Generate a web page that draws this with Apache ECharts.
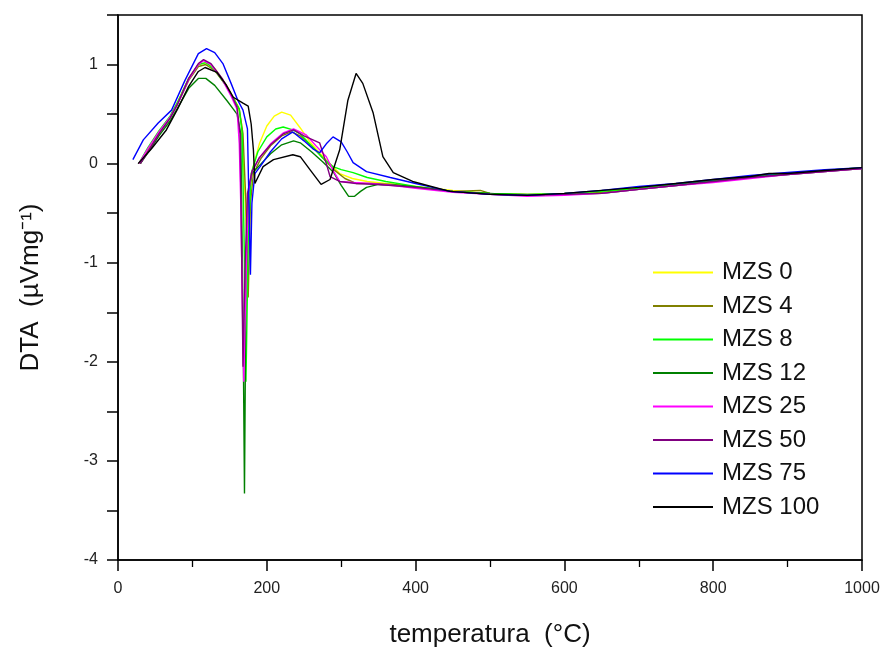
<!DOCTYPE html>
<html>
<head>
<meta charset="utf-8">
<script src="https://cdn.jsdelivr.net/npm/echarts@6/dist/echarts.min.js"></script>
<style>
html,body{margin:0;padding:0;background:#fff;}
#chart{width:887px;height:653px;}
</style>
</head>
<body>
<div id="chart"></div>
<script>
// Series names and colours
var seriesNames = ['MZS 0','MZS 4','MZS 8','MZS 12','MZS 25','MZS 50','MZS 75','MZS 100'];
var seriesColors = ['#ffff00','#808000','#00ff00','#008000','#ff00ff','#800080','#0000ff','#000000'];

// [temperature (°C), DTA (µV/mg)]
var mzs0 = [[28,0.0],[40,0.14],[55,0.31],[70,0.47],[80,0.62],[95,0.86],[108,1.0],[118,1.02],[130,0.96],[145,0.8],[155,0.67],[162,0.57],[166,0.4],[170,-0.2],[174,-0.9],[177,-0.3],[181,-0.05],[190,0.2],[200,0.38],[210,0.48],[220,0.52],[232,0.49],[245,0.36],[258,0.22],[272,0.1],[285,0.0],[298,-0.1],[315,-0.15],[335,-0.18],[360,-0.2],[400,-0.23],[450,-0.27],[500,-0.3],[550,-0.31],[600,-0.3],[650,-0.28],[700,-0.24],[750,-0.21],[800,-0.17],[850,-0.13],[900,-0.1],[950,-0.07],[1000,-0.04]];
var mzs4 = [[30,0.0],[42,0.15],[55,0.3],[70,0.46],[80,0.6],[95,0.84],[108,0.98],[118,1.0],[130,0.94],[145,0.79],[155,0.66],[163,0.55],[168,0.3],[172,-0.4],[175,-1.35],[178,-0.4],[182,-0.1],[192,0.05],[205,0.18],[220,0.28],[233,0.32],[245,0.28],[260,0.18],[275,0.06],[290,-0.06],[305,-0.15],[320,-0.2],[340,-0.2],[370,-0.21],[400,-0.24],[450,-0.28],[487,-0.27],[500,-0.3],[550,-0.31],[600,-0.31],[650,-0.29],[700,-0.25],[750,-0.21],[800,-0.18],[850,-0.14],[900,-0.1],[950,-0.07],[1000,-0.05]];
var mzs8 = [[28,0.0],[40,0.16],[55,0.33],[70,0.48],[80,0.62],[95,0.86],[108,1.0],[118,1.02],[130,0.95],[145,0.79],[155,0.66],[163,0.55],[167,0.3],[170,-1.0],[172,-2.2],[175,-0.8],[179,-0.1],[188,0.12],[200,0.27],[212,0.35],[222,0.37],[235,0.34],[245,0.3],[260,0.18],[275,0.06],[289,-0.03],[300,-0.06],[316,-0.09],[335,-0.14],[360,-0.18],[400,-0.23],[450,-0.28],[500,-0.3],[550,-0.31],[600,-0.3],[650,-0.28],[700,-0.25],[750,-0.21],[800,-0.17],[850,-0.13],[900,-0.1],[950,-0.07],[1000,-0.04]];
var mzs12 = [[30,0.0],[42,0.13],[55,0.28],[70,0.43],[80,0.56],[95,0.76],[108,0.86],[118,0.86],[130,0.79],[146,0.64],[155,0.55],[160,0.5],[165,0.3],[168,-1.5],[170,-3.33],[172,-1.2],[175,-0.3],[180,-0.1],[190,-0.02],[205,0.1],[220,0.19],[236,0.23],[245,0.21],[260,0.12],[275,0.02],[290,-0.09],[300,-0.22],[310,-0.33],[318,-0.33],[326,-0.28],[334,-0.24],[350,-0.21],[380,-0.22],[420,-0.25],[450,-0.28],[500,-0.3],[550,-0.32],[600,-0.31],[650,-0.3],[700,-0.26],[750,-0.22],[800,-0.18],[850,-0.14],[900,-0.11],[950,-0.08],[1000,-0.05]];
var mzs25 = [[28,0.0],[40,0.15],[55,0.32],[70,0.47],[80,0.6],[95,0.85],[108,1.0],[115,1.04],[125,1.0],[140,0.85],[152,0.68],[160,0.55],[163,0.2],[165,-0.4],[169,-2.2],[172,-1.2],[175,-0.3],[180,-0.08],[190,0.06],[205,0.2],[222,0.31],[236,0.35],[253,0.29],[266,0.18],[280,0.07],[290,-0.08],[298,-0.18],[316,-0.19],[340,-0.2],[370,-0.22],[400,-0.25],[450,-0.29],[500,-0.31],[550,-0.33],[600,-0.32],[650,-0.3],[700,-0.26],[750,-0.22],[800,-0.19],[850,-0.15],[900,-0.11],[950,-0.08],[1000,-0.05]];
var mzs50 = [[30,0.0],[42,0.14],[55,0.3],[70,0.46],[80,0.6],[95,0.86],[108,1.01],[115,1.05],[125,1.01],[140,0.86],[152,0.7],[160,0.57],[164,0.3],[166,-0.8],[168,-2.05],[171,-1.0],[174,-0.3],[180,-0.08],[190,0.06],[205,0.19],[222,0.3],[236,0.34],[250,0.28],[262,0.24],[271,0.21],[280,0.0],[285,-0.13],[298,-0.18],[320,-0.2],[350,-0.21],[400,-0.24],[450,-0.28],[500,-0.31],[550,-0.32],[600,-0.31],[650,-0.3],[700,-0.26],[750,-0.22],[800,-0.18],[850,-0.14],[900,-0.11],[950,-0.08],[1000,-0.05]];
var mzs75 = [[20,0.04],[34,0.24],[54,0.41],[72,0.54],[90,0.84],[108,1.11],[119,1.16],[130,1.12],[141,1.01],[152,0.81],[161,0.64],[168,0.54],[174,0.35],[176,-0.4],[178,-1.12],[180,-0.4],[184,-0.1],[191,-0.03],[205,0.12],[220,0.25],[235,0.32],[250,0.23],[262,0.15],[271,0.11],[280,0.2],[289,0.27],[300,0.22],[308,0.12],[316,0.01],[334,-0.08],[366,-0.14],[400,-0.2],[423,-0.24],[446,-0.28],[500,-0.31],[550,-0.32],[600,-0.3],[650,-0.27],[700,-0.23],[750,-0.2],[800,-0.16],[850,-0.12],[900,-0.09],[950,-0.06],[1000,-0.04]];
var mzs100 = [[27,0.0],[45,0.15],[65,0.34],[80,0.55],[95,0.78],[108,0.93],[117,0.97],[133,0.92],[145,0.8],[155,0.67],[168,0.61],[175,0.58],[179,0.4],[182,0.14],[184,-0.2],[186,-0.18],[195,-0.03],[209,0.04],[235,0.09],[245,0.07],[259,-0.07],[273,-0.21],[285,-0.16],[298,0.14],[309,0.64],[320,0.91],[329,0.81],[343,0.51],[356,0.07],[370,-0.09],[396,-0.18],[446,-0.28],[500,-0.31],[550,-0.32],[600,-0.3],[650,-0.27],[700,-0.24],[750,-0.2],[800,-0.16],[850,-0.13],[875,-0.1],[900,-0.1],[950,-0.07],[1000,-0.04]];

var seriesData = [mzs0, mzs4, mzs8, mzs12, mzs25, mzs50, mzs75, mzs100];

var xTickLabels = [0,200,400,600,800,1000];
var yTickLabels = [-4,-3,-2,-1,0,1];

var FONT = '"Liberation Sans", Arial, sans-serif';
var chart = echarts.init(document.getElementById('chart'));

var series = seriesNames.map(function(n, i){
  return {
    name: n,
    type: 'line',
    data: seriesData[i],
    symbol: 'none',
    smooth: false,
    animation: false,
    lineStyle: {color: seriesColors[i], width: 1.4},
    itemStyle: {color: seriesColors[i]}
  };
});

chart.setOption({
  backgroundColor: '#fff',
  animation: false,
  grid: {left: 118, right: 25, top: 15, bottom: 93, show: true, borderColor: '#000', borderWidth: 1.5, backgroundColor: 'transparent'},
  legend: {
    orient: 'vertical',
    left: 648,
    top: 254.5,
    itemWidth: 60,
    itemHeight: 14,
    itemGap: 7.5,
    icon: 'path://M0,6 L60,6 L60,8 L0,8 Z',
    textStyle: {fontFamily: FONT, fontSize: 24, color: '#111', lineHeight: 26, padding: [0,0,0,4]},
    data: seriesNames
  },
  xAxis: {
    type: 'value',
    min: 0, max: 1000, interval: 200,
    name: 'temperatura  (°C)',
    nameLocation: 'middle',
    nameGap: 62,
    nameTextStyle: {fontFamily: FONT, fontSize: 26, color: '#111'},
    axisLine: {show: true, onZero: false, lineStyle: {color: '#000', width: 1.5}},
    axisTick: {show: true, inside: false, length: 11, lineStyle: {color: '#000', width: 1.5}},
    minorTick: {show: true, splitNumber: 2, length: 7, lineStyle: {color: '#000', width: 1.3}},
    splitLine: {show: false},
    axisLabel: {fontFamily: FONT, fontSize: 16, color: '#222', margin: 21,
      formatter: function(v){ return xTickLabels.indexOf(v) >= 0 ? String(v) : ''; }}
  },
  yAxis: {
    type: 'value',
    min: -4, max: 1.5, interval: 0.5,
    name: 'DTA  (µVmg⁻¹)',
    nameLocation: 'middle',
    nameGap: 74,
    nameRotate: 90,
    nameTextStyle: {fontFamily: FONT, fontSize: 26, color: '#111'},
    axisLine: {show: true, onZero: false, lineStyle: {color: '#000', width: 1.5}},
    axisTick: {show: true, inside: false, length: 11, lineStyle: {color: '#000', width: 1.5}},
    splitLine: {show: false},
    axisLabel: {fontFamily: FONT, fontSize: 16, color: '#222', margin: 20,
      formatter: function(v){ return yTickLabels.indexOf(v) >= 0 ? String(v) : ''; }}
  },
  series: series
});
</script>
</body>
</html>
